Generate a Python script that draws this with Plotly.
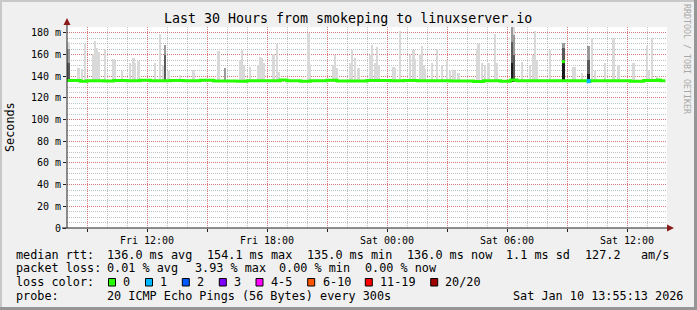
import plotly.graph_objects as go
import pandas as pd

# ---------------- data ----------------
# smoke (ping spread) upper edges, light layer
light_times = [
    "2026-01-09 08:05", "2026-01-09 08:35", "2026-01-09 08:45", "2026-01-09 08:55", "2026-01-09 09:20",
    "2026-01-09 09:25", "2026-01-09 09:30", "2026-01-09 09:35", "2026-01-09 09:55", "2026-01-09 10:20",
    "2026-01-09 10:25", "2026-01-09 10:45", "2026-01-09 11:10", "2026-01-09 11:20", "2026-01-09 11:25",
    "2026-01-09 11:35", "2026-01-09 12:25", "2026-01-09 12:40", "2026-01-09 12:50", "2026-01-09 12:55",
    "2026-01-09 13:05", "2026-01-09 13:40", "2026-01-09 14:20", "2026-01-09 15:35", "2026-01-09 15:55",
    "2026-01-09 16:40", "2026-01-09 16:45", "2026-01-09 16:50", "2026-01-09 17:10", "2026-01-09 17:35",
    "2026-01-09 17:40", "2026-01-09 17:45", "2026-01-09 17:50", "2026-01-09 18:20", "2026-01-09 18:30",
    "2026-01-09 18:35", "2026-01-09 20:05", "2026-01-09 20:10", "2026-01-09 21:20", "2026-01-09 21:25",
    "2026-01-09 21:30", "2026-01-09 22:10", "2026-01-09 22:15", "2026-01-09 22:25", "2026-01-09 22:35",
    "2026-01-09 23:10", "2026-01-09 23:15", "2026-01-09 23:25", "2026-01-09 23:30", "2026-01-09 23:35",
    "2026-01-10 00:20", "2026-01-10 00:25", "2026-01-10 00:40", "2026-01-10 01:10", "2026-01-10 01:20",
    "2026-01-10 01:25", "2026-01-10 01:40", "2026-01-10 01:45", "2026-01-10 01:50", "2026-01-10 01:55",
    "2026-01-10 02:15", "2026-01-10 02:30", "2026-01-10 02:45", "2026-01-10 03:00", "2026-01-10 03:10",
    "2026-01-10 03:20", "2026-01-10 03:25", "2026-01-10 03:35", "2026-01-10 04:30", "2026-01-10 04:35",
    "2026-01-10 04:45", "2026-01-10 04:55", "2026-01-10 05:05", "2026-01-10 05:25", "2026-01-10 05:30",
    "2026-01-10 06:15", "2026-01-10 06:20", "2026-01-10 06:45", "2026-01-10 07:10", "2026-01-10 07:20",
    "2026-01-10 07:25", "2026-01-10 07:30", "2026-01-10 08:10", "2026-01-10 08:50", "2026-01-10 09:20",
    "2026-01-10 09:25", "2026-01-10 09:45", "2026-01-10 10:05", "2026-01-10 10:15", "2026-01-10 10:25",
    "2026-01-10 10:55", "2026-01-10 11:20", "2026-01-10 11:35", "2026-01-10 12:20", "2026-01-10 13:00",
    "2026-01-10 13:05", "2026-01-10 13:15", "2026-01-10 13:30",
]
light_tops = [
    172, 148, 147, 170, 161,
    173, 166, 162, 165, 156,
    154, 145, 152, 157, 152,
    154, 152, 179, 150, 169,
    145, 141, 146, 163, 148,
    155, 164, 150, 149, 150,
    158, 157, 152, 161, 170,
    144, 180, 150, 150, 160,
    148, 152, 164, 157, 148,
    160, 169, 152, 167, 150,
    149, 148, 182, 160, 164,
    156, 161, 168, 150, 147,
    152, 165, 150, 155, 145,
    146, 145, 143, 165, 170,
    152, 150, 152, 179, 152,
    185.5, 185.5, 153, 150, 160,
    182, 155, 164, 171, 149,
    149, 143, 168, 175, 145,
    152, 175, 150, 152, 168,
    146, 175, 140,
]
mid_times = ["2026-01-09 08:05", "2026-01-09 12:55", "2026-01-09 15:55", "2026-01-10 06:15",
             "2026-01-10 06:20", "2026-01-10 08:50", "2026-01-10 10:05"]
mid_tops = [165, 169, 148, 185.5, 178, 171, 168]
dark_times = ["2026-01-09 08:05", "2026-01-09 12:55", "2026-01-10 06:15", "2026-01-10 06:20",
              "2026-01-10 08:50", "2026-01-10 10:05"]
dark_tops = [152, 160, 172, 160, 166, 155]
darkest_times = ["2026-01-10 06:15", "2026-01-10 08:50", "2026-01-10 10:05"]
darkest_tops = [152, 154, 142]
smoke_floor = 135.0

# median rtt (change points)
median_times = [
    "2026-01-09 08:00", "2026-01-09 08:40", "2026-01-09 09:00", "2026-01-09 09:50", "2026-01-09 10:20",
    "2026-01-09 11:00", "2026-01-09 11:40", "2026-01-09 12:10", "2026-01-09 13:10", "2026-01-09 13:50",
    "2026-01-09 14:40", "2026-01-09 15:20", "2026-01-09 16:30", "2026-01-09 17:00", "2026-01-09 17:50",
    "2026-01-09 18:40", "2026-01-09 19:00", "2026-01-09 19:40", "2026-01-09 20:10", "2026-01-09 21:00",
    "2026-01-09 21:30", "2026-01-09 22:20", "2026-01-09 23:00", "2026-01-10 00:10", "2026-01-10 00:50",
    "2026-01-10 01:30", "2026-01-10 02:20", "2026-01-10 03:10", "2026-01-10 04:20", "2026-01-10 04:50",
    "2026-01-10 05:40", "2026-01-10 06:10", "2026-01-10 06:30", "2026-01-10 07:20",
    "2026-01-10 09:40", "2026-01-10 10:05", "2026-01-10 10:10", "2026-01-10 11:30",
    "2026-01-10 12:10", "2026-01-10 12:50", "2026-01-10 13:30", "2026-01-10 13:40", "2026-01-10 13:55",
]
median_values = [
    136.2, 135.5, 136.0, 135.6, 136.1,
    135.8, 136.4, 135.8, 136.2, 135.9,
    136.3, 135.7, 135.4, 135.9, 136.0,
    136.6, 135.8, 135.4, 136.0, 136.3,
    135.7, 135.6, 136.1, 135.9, 136.2,
    135.8, 136.0, 135.7, 135.3, 135.9,
    135.5, 136.6, 135.8, 136.0,
    136.0, 135.5, 136.0, 135.9,
    135.4, 136.1, 136.6, 136.0, 136.0,
]
# single-step median excursion
median_spike_times = ["2026-01-10 08:49"]
median_spike_values = [153.5]
loss1_times = ["2026-01-10 10:05"]
loss1_values = [135.5]

y_tick_values = [0, 20, 40, 60, 80, 100, 120, 140, 160, 180]
y_tick_labels = ["0", "20 m", "40 m", "60 m", "80 m", "100 m", "120 m", "140 m", "160 m", "180 m"]

loss_labels = ["0", "1", "2", "3", "4-5", "6-10", "11-19", "20/20"]
loss_colors = ["#26ff00", "#00b8ff", "#0059ff", "#7e00ff", "#ff00ff", "#ff5500", "#ff0000", "#a10000"]

stats_line1 = ["median rtt:", "136.0 ms avg", "154.1 ms max", "135.0 ms min", "136.0 ms now",
               "1.1 ms sd", "127.2", "am/s"]
stats_line2 = ["packet loss:", "0.01 % avg", "3.93 % max", "0.00 % min", "0.00 % now"]
probe_line = ["probe:", "20 ICMP Echo Pings (56 Bytes) every 300s", "Sat Jan 10 13:55:13 2026"]

# ---------------- layout helpers ----------------
W, H = 697, 310
L, R, T, B = 67, 667, 27, 228
def px(x):
    return (x - L) / (R - L)
def py(y):
    return (B - y) / (B - T)

MONO = "DejaVu Sans Mono"
fig = go.Figure()

def smoke(times, tops, color):
    fig.add_trace(go.Bar(
        x=pd.to_datetime(times), y=[t - smoke_floor for t in tops], base=smoke_floor,
        width=330000, marker=dict(color=color, line=dict(width=0)), hoverinfo="skip"))

smoke(light_times, light_tops, "#d9d9d9")
smoke(mid_times, mid_tops, "#9a9a9a")
smoke(dark_times, dark_tops, "#5a5a5a")
smoke(darkest_times, darkest_tops, "#1a1a1a")

fig.add_trace(go.Scatter(x=pd.to_datetime(median_times), y=median_values, mode="lines",
                         line=dict(color="#26ff00", width=3, shape="hv"), hoverinfo="skip"))
fig.add_trace(go.Scatter(x=pd.to_datetime(median_spike_times), y=median_spike_values, mode="markers",
                         marker=dict(color="#26ff00", size=3, symbol="square", line=dict(width=0)),
                         hoverinfo="skip"))
fig.add_trace(go.Scatter(x=pd.to_datetime(loss1_times), y=loss1_values, mode="markers",
                         marker=dict(color="#00b8ff", size=4, symbol="square", line=dict(width=0)),
                         hoverinfo="skip"))

tickvals = pd.date_range("2026-01-09 09:00", "2026-01-10 12:00", freq="3h")
ticktext = [t.strftime("%a %H:%M") if t.hour % 6 == 0 else "" for t in tickvals]

grid_major = "rgba(255,0,0,0.38)"
grid_minor = "rgba(120,120,120,0.45)"

fig.update_layout(
    width=W, height=H, margin=dict(l=L, r=W - R, t=T, b=H - B, pad=0),
    paper_bgcolor="#f0f0f0", plot_bgcolor="#ffffff", showlegend=False,
    barmode="overlay", bargap=0,
    xaxis=dict(type="date", range=["2026-01-09 08:00", "2026-01-10 14:00"],
               tickmode="array", tickvals=tickvals, ticktext=ticktext,
               showgrid=True, gridcolor=grid_major, griddash="1px,1px", gridwidth=1,
               minor=dict(tickmode="linear", tick0="2026-01-09 08:00", dtick=3600000,
                          showgrid=True, gridcolor=grid_minor, griddash="1px,1px", gridwidth=1),
               ticks="outside", ticklen=3, tickcolor="#202020",
               tickfont=dict(family=MONO, size=10, color="#000"),
               showline=False, zeroline=False, fixedrange=True),
    yaxis=dict(range=[0, 185.5], tickmode="array", tickvals=y_tick_values, ticktext=y_tick_labels,
               showgrid=True, gridcolor=grid_major, griddash="1px,1px", gridwidth=1,
               minor=dict(tickmode="linear", tick0=0, dtick=5, showgrid=True,
                          gridcolor=grid_minor, griddash="1px,1px", gridwidth=1),
               ticks="outside", ticklen=3, tickcolor="#202020",
               tickfont=dict(family=MONO, size=10, color="#000"),
               showline=False, zeroline=False, fixedrange=True),
)

shapes = []
# frame (3D shade)
shapes.append(dict(type="rect", xref="paper", yref="paper", x0=px(0), x1=px(W), y0=py(0), y1=py(2),
                   fillcolor="#c8c8c8", line=dict(width=0), layer="above"))
shapes.append(dict(type="rect", xref="paper", yref="paper", x0=px(0), x1=px(2), y0=py(0), y1=py(H),
                   fillcolor="#c8c8c8", line=dict(width=0), layer="above"))
shapes.append(dict(type="rect", xref="paper", yref="paper", x0=px(0), x1=px(W), y0=py(H - 3), y1=py(H),
                   fillcolor="#969696", line=dict(width=0), layer="above"))
shapes.append(dict(type="rect", xref="paper", yref="paper", x0=px(W - 3), x1=px(W), y0=py(0), y1=py(H),
                   fillcolor="#969696", line=dict(width=0), layer="above"))
# axes
shapes.append(dict(type="line", xref="paper", yref="paper", x0=px(67), x1=px(67), y0=py(228), y1=py(22),
                   line=dict(color="#202020", width=1)))
shapes.append(dict(type="line", xref="paper", yref="paper", x0=px(62), x1=px(669), y0=py(228), y1=py(228),
                   line=dict(color="#202020", width=1)))
shapes.append(dict(type="path", xref="paper", yref="paper",
                   path=f"M {px(67)} {py(18)} L {px(63.5)} {py(25)} L {px(70.5)} {py(25)} Z",
                   fillcolor="#8b1a1a", line=dict(width=0)))
shapes.append(dict(type="path", xref="paper", yref="paper",
                   path=f"M {px(674)} {py(228)} L {px(667)} {py(224.5)} L {px(667)} {py(231.5)} Z",
                   fillcolor="#8b1a1a", line=dict(width=0)))

ann = []
def text(x, y, s, size=11.8, color="#000", anchor="left", angle=0):
    ann.append(dict(x=px(x), y=py(y), xref="paper", yref="paper", text=s, showarrow=False,
                    xanchor=anchor, yanchor="middle", textangle=angle,
                    font=dict(family=MONO, size=size, color=color)))

text(347.5, 19, "Last 30 Hours from smokeping to linuxserver.io", size=13.3, anchor="center")
text(9.5, 126.5, "Seconds", size=11.8, anchor="center", angle=-90)
text(687, 59, "RRDTOOL / TOBI OETIKER", size=8.3, color="#a8a8a8", anchor="center", angle=90)

line1_x = [16, 107.3, 207.3, 306.7, 406.5, 506, 584.5, 641]
for xx, s in zip(line1_x, stats_line1):
    text(xx - 2, 254.7, s)
line2_x = [16, 107.3, 195, 279.3, 365]
for xx, s in zip(line2_x, stats_line2):
    text(xx - 2, 268.3, s)
text(14, 282.3, "loss color:")
box_x = [108.5, 145.5, 182.3, 219.3, 256, 307.7, 365.3, 430.7]
lab_x = [123, 160, 196.7, 234, 270.7, 322.7, 380, 445]
for bx, lx, lab, col in zip(box_x, lab_x, loss_labels, loss_colors):
    shapes.append(dict(type="rect", xref="paper", yref="paper", x0=px(bx), x1=px(bx + 7),
                       y0=py(278.5), y1=py(286), fillcolor=col, line=dict(color="#000", width=1)))
    text(lx - 2, 282.3, lab)
probe_x = [16, 107.3, 513.3]
for xx, s in zip(probe_x, probe_line):
    text(xx - 2, 296, s)

fig.update_layout(shapes=shapes, annotations=ann)
fig.write_html("out.html")
